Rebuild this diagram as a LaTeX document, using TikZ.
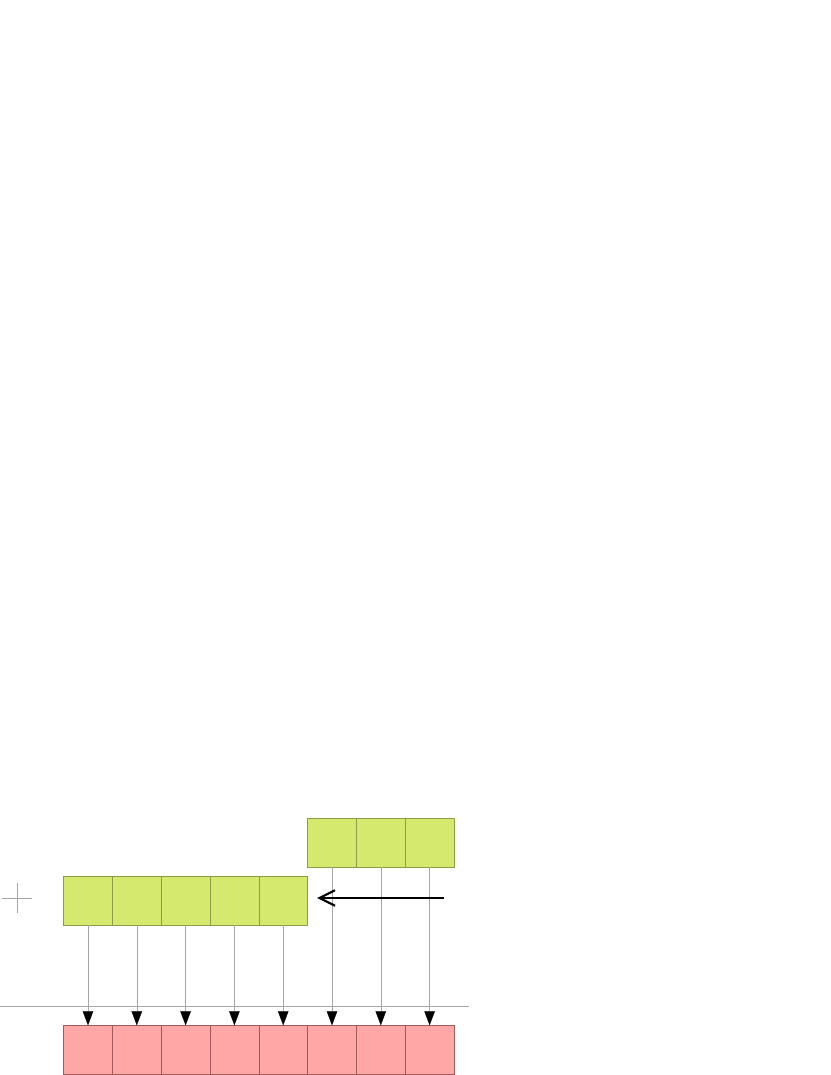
\documentclass[tikz,border=0pt]{standalone}
\usepackage{tikz}
\usetikzlibrary{arrows.meta}

\definecolor{cellgreen}{RGB}{213,233,110}
\definecolor{edgegreen}{RGB}{140,156,72}
\definecolor{cellred}{RGB}{255,166,166}
\definecolor{edgered}{RGB}{160,92,92}

\begin{document}
\begin{tikzpicture}[
    gcell/.style={draw=edgegreen, fill=cellgreen, thin, minimum size=1.22cm, inner sep=0pt},
    rcell/.style={draw=edgered, fill=cellred, thin, minimum size=1.22cm, inner sep=0pt},
    copyline/.style={gray!70, very thin, -{Triangle[black,length=10pt,width=7.5pt]}}
    ]
            \useasboundingbox (0,0) rectangle (20.75,26.875);

            % upper row
            \node[gcell] (t1) at (8.30,5.81) {};
            \node[gcell] (t2) at (9.52,5.81) {};
            \node[gcell] (t3) at (10.74,5.81) {};

            % middle row
            \node[gcell] (m1) at (2.20,4.36) {};
            \node[gcell] (m2) at (3.42,4.36) {};
            \node[gcell] (m3) at (4.64,4.36) {};
            \node[gcell] (m4) at (5.86,4.36) {};
            \node[gcell] (m5) at (7.08,4.36) {};

            % lower row
            \node[rcell] (r1) at (2.20,0.625) {};
            \node[rcell] (r2) at (3.42,0.625) {};
            \node[rcell] (r3) at (4.64,0.625) {};
            \node[rcell] (r4) at (5.86,0.625) {};
            \node[rcell] (r5) at (7.08,0.625) {};
            \node[rcell] (r6) at (8.30,0.625) {};
            \node[rcell] (r7) at (9.52,0.625) {};
            \node[rcell] (r8) at (10.74,0.625) {};

            % |
            \draw [copyline] (m1.south) -- (r1.north);
            \draw [copyline] (m2.south) -- (r2.north);
            \draw [copyline] (m3.south) -- (r3.north);
            \draw [copyline] (m4.south) -- (r4.north);
            \draw [copyline] (m5.south) -- (r5.north);
            \draw [copyline] (t1.south) -- (r6.north);
            \draw [copyline] (t2.south) -- (r7.north);
            \draw [copyline] (t3.south) -- (r8.north);

            % base line
            \draw [gray!70, very thin] (0,1.725) -- (11.725,1.725);

            % cross
            \draw [gray!70, very thin] (0.05,4.425) -- (0.8,4.425);
            \draw [gray!70, very thin] (0.425,4.06) -- (0.425,4.79);

            % <-
            \coordinate (src) at (11.1,4.425);
            \coordinate (dst) at (7.93,4.425);
            \draw [line width=1.5pt, -{Straight Barb[length=11pt,width=11pt]}] (src) -- (dst);
\end{tikzpicture}
\end{document}
